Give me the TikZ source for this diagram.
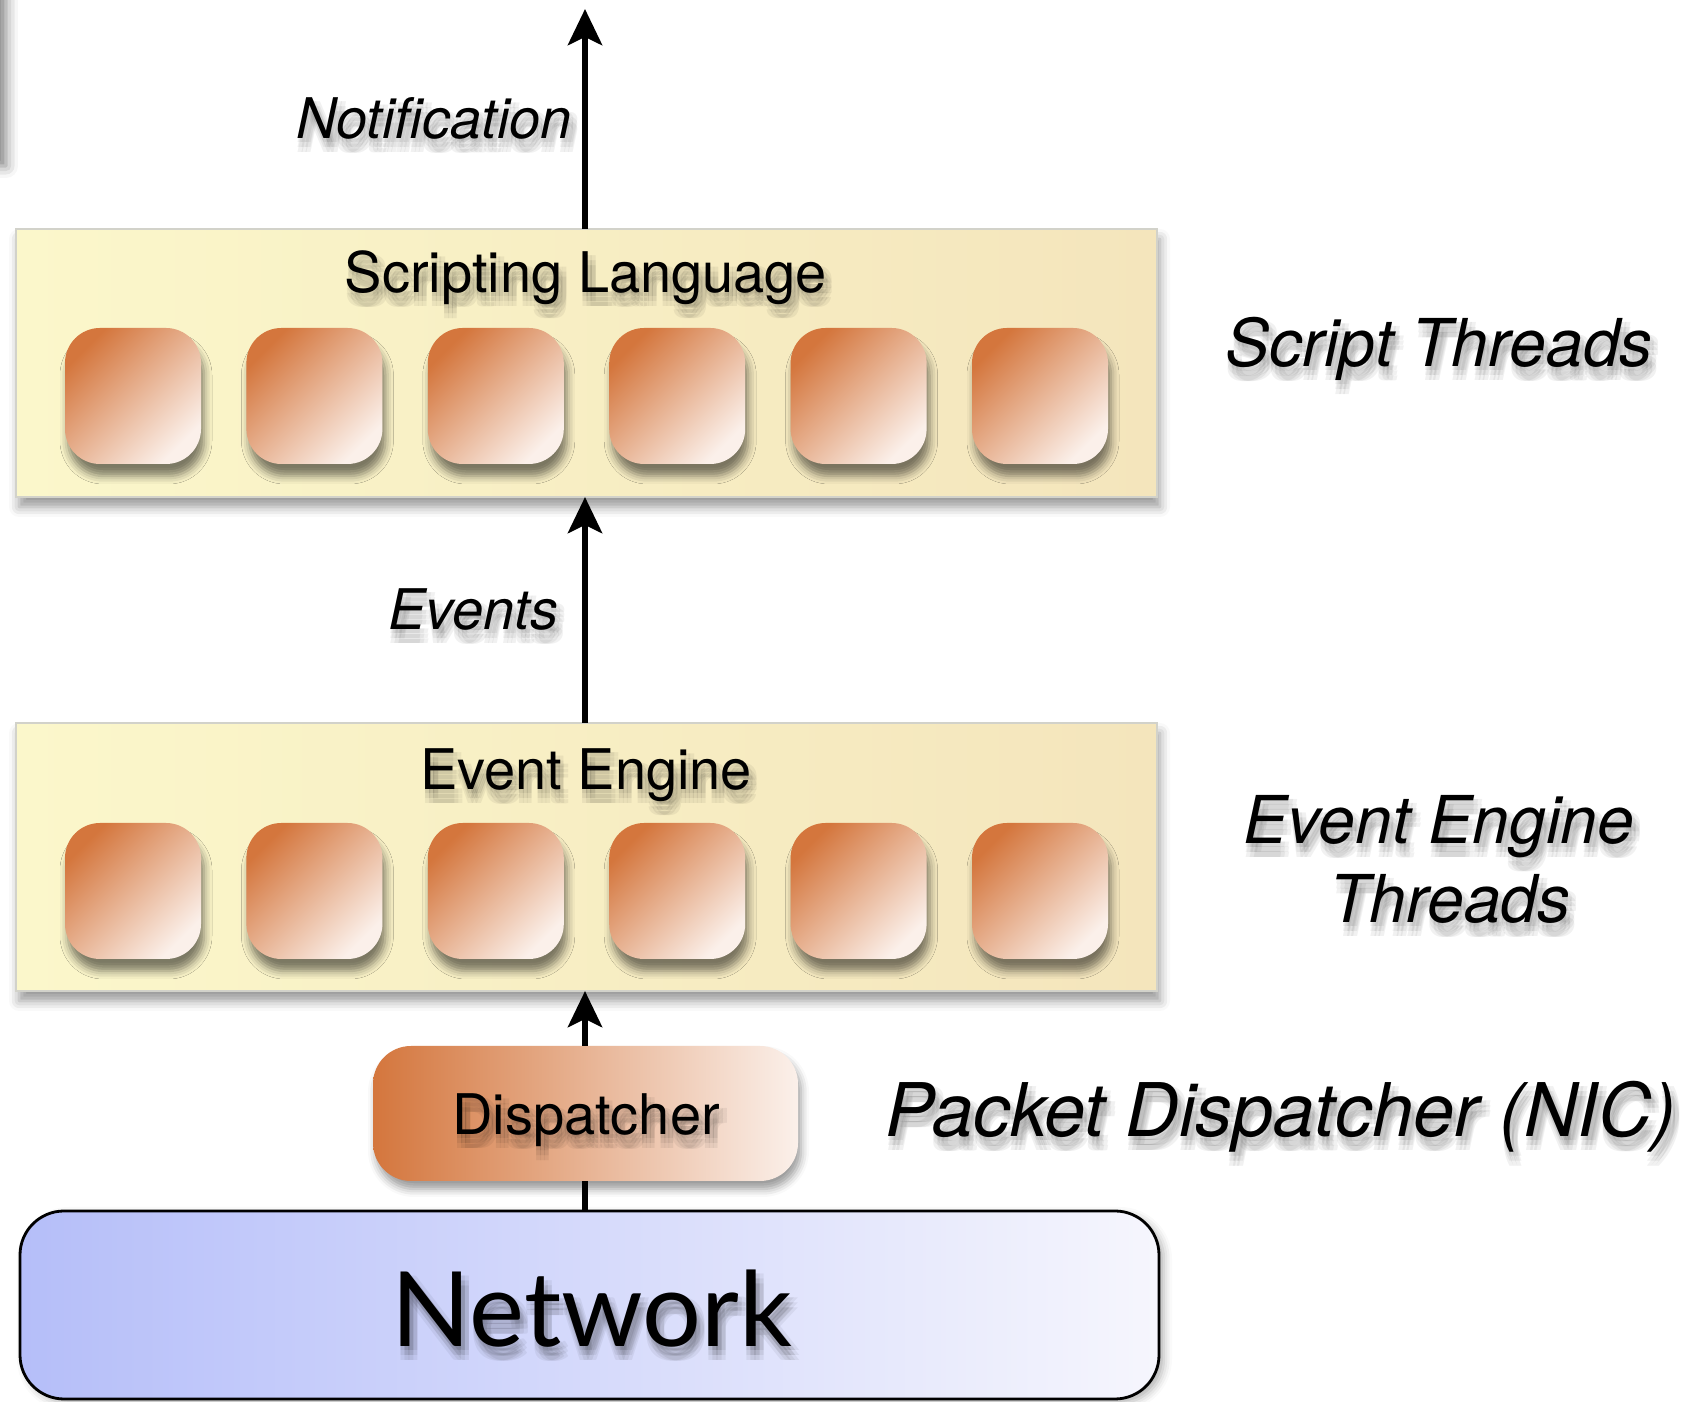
\documentclass[tikz,border=0pt]{standalone}
\usepackage{fontspec}
\newfontfamily\hv{TeX Gyre Heros}
\newfontfamily\gill{Lato}
\usetikzlibrary{arrows.meta,shadows.blur}
\definecolor{yelL}{HTML}{FBF7CB}
\definecolor{yelR}{HTML}{F4E5BC}
\definecolor{orD}{HTML}{D4763D}
\definecolor{orL}{HTML}{FBF0EA}
\definecolor{blD}{HTML}{B5BEF9}
\definecolor{blL}{HTML}{F6F6FD}
\definecolor{framec}{HTML}{D2D2CA}
\newcommand\shtxt[4]{%
  \foreach \dx in {0,4,8}{\foreach \dy in {-4,-9,-14}{%
    \node[#3, shift={(\dx,\dy)}, text=black, text opacity=0.055] (#1-sh) at #2 {#4};}}
  \node[#3] (#1) at #2 {#4};}
\begin{document}
\begin{tikzpicture}[x=0.5pt,y=0.5pt,
  every node/.style={outer sep=0pt, inner sep=0pt},
  layer/.style={draw=framec, line width=1.1pt, left color=yelL, right color=yelR,
    minimum width=570.5pt, minimum height=134pt, anchor=south west,
    blur shadow={shadow xshift=1.5pt, shadow yshift=-5pt, shadow blur radius=5pt, shadow opacity=40}},
  thread/.style={rounded corners=17.5pt, top color=orD, bottom color=orL, shading angle=45,
    minimum width=68pt, minimum height=68pt,
    blur shadow={shadow xshift=1.5pt, shadow yshift=-6pt, shadow blur radius=4pt, shadow opacity=50}},
  disp/.style={rounded corners=19pt, left color=orD, right color=orL,
    minimum width=212.5pt, minimum height=67.5pt,
    blur shadow={shadow xshift=1.5pt, shadow yshift=-4pt, shadow blur radius=4pt, shadow opacity=40}},
  netbox/.style={draw=black, line width=1.4pt, rounded corners=22pt, left color=blD, right color=blL,
    minimum width=569.5pt, minimum height=94pt, anchor=south west,
    blur shadow={shadow xshift=2.5pt, shadow yshift=-2pt, shadow blur radius=4pt, shadow opacity=30}},
  arr/.style={line width=3.3pt, -{Stealth[length=18pt,width=17pt,inset=4pt]}},
  plain/.style={line width=3.3pt},
  lab/.style={anchor=base, font=\hv\fontsize{28}{34}\selectfont},
  ilab/.style={anchor=base, font=\hv\itshape\fontsize{28}{34}\selectfont},
  rlab/.style={anchor=base, font=\hv\itshape\fontsize{33}{40}\selectfont},
  plab/.style={anchor=base, font=\hv\itshape\fontsize{37}{44}\selectfont},
  nlab/.style={anchor=base, font=\gill\fontsize{52}{60}\selectfont}
]
\useasboundingbox (0,0) rectangle (1703,1402);

% off-canvas box whose shadow shows at the left edge
\node[fill=white, minimum width=100pt, minimum height=200pt, anchor=south east,
  blur shadow={shadow xshift=4pt, shadow yshift=-2pt, shadow blur radius=6pt, shadow opacity=50}]
  (offbox) at (-2,1240) {};

% layers
\node[layer] (script) at (16,905) {};
\node[layer] (ee) at (16,411) {};

\foreach \i in {0,...,5}{
  \node[thread] (st\i) at (133+181.4*\i,1006) {};
  \node[thread] (et\i) at (133+181.4*\i,511) {};
}

\node[disp] (dispatcher) at (585.5,288.5) {};
\node[netbox] (net) at (20,3) {};

% connectors
\coordinate (topend) at (585,1393);
\draw[arr] (script.north -| 585,0) -- (topend);
\draw[arr] (ee.north -| 585,0) -- (script.south -| 585,0);
\draw[arr] (dispatcher.north -| 585,0) -- (ee.south -| 585,0);
\draw[plain] (net.north -| 585,0) -- (dispatcher.south -| 585,0);

% texts
\shtxt{notif}{(572,1263)}{ilab, anchor=base east}{Notification}
\shtxt{sl}{(586,1109)}{lab}{Scripting Language}
\shtxt{events}{(558,772)}{ilab, anchor=base east}{Events}
\shtxt{eelab}{(586,612)}{lab}{Event Engine}
\shtxt{displab}{(586,267)}{lab}{Dispatcher}
\shtxt{netlab}{(592,55)}{nlab}{Network}
\shtxt{st}{(1439,1035)}{rlab}{Script Threads}
\shtxt{eet1}{(1439,558)}{rlab}{Event Engine}
\shtxt{eet2}{(1450,479)}{rlab}{Threads}
\shtxt{pd}{(1281,265)}{plab}{Packet Dispatcher (NIC)}
\end{tikzpicture}
\end{document}
